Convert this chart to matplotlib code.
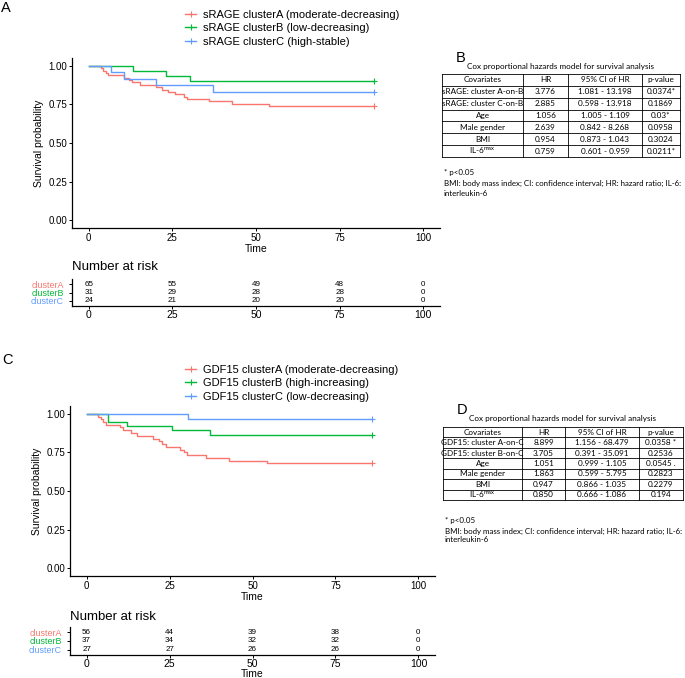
import matplotlib

matplotlib.use("Agg")
import matplotlib.pyplot as plt
from matplotlib.lines import Line2D

W, H = 685, 678
PLOT_FONT = "Liberation Sans"
TABLE_FONT = "Lato"

COLORS = ["#F8766D", "#00BA38", "#619CFF"]
GROUPS = ["clusterA", "clusterB", "clusterC"]
BREAKS = [0, 25, 50, 75, 100]

# panel A: sRAGE clusters (Kaplan-Meier steps)
sr_labels = ["sRAGE clusterA (moderate-decreasing)", "sRAGE clusterB (low-decreasing)",
             "sRAGE clusterC (high-stable)"]
sr_a_time = [0, 3.6, 4.4, 5.2, 5.9, 10.4, 12.0, 13.0, 15.2, 20.0, 22.0, 23.7, 25.7, 28.5,
             29.5, 36.0, 42.7, 54.0, 85.2]
sr_a_surv = [1.000, 0.985, 0.969, 0.954, 0.938, 0.923, 0.908, 0.892, 0.877, 0.862, 0.846,
             0.831, 0.815, 0.800, 0.785, 0.769, 0.754, 0.738, 0.738]
sr_b_time = [0, 13.3, 23.0, 30.3, 85.2]
sr_b_surv = [1.000, 0.968, 0.935, 0.903, 0.903]
sr_c_time = [0, 6.8, 10.5, 20.0, 37.0, 85.2]
sr_c_surv = [1.000, 0.958, 0.917, 0.875, 0.833, 0.833]
sr_risk = [[65, 55, 49, 48, 0], [31, 29, 28, 28, 0], [24, 21, 20, 20, 0]]

# panel C: GDF15 clusters
gd_labels = ["GDF15 clusterA (moderate-decreasing)", "GDF15 clusterB (high-increasing)",
             "GDF15 clusterC (low-decreasing)"]
gd_a_time = [0, 3.5, 4.2, 4.9, 5.7, 10.2, 11.0, 13.3, 15.3, 20.0, 21.8, 22.8, 23.9, 28.3,
             29.5, 30.2, 36.1, 42.9, 54.4, 86.1]
gd_a_surv = [1.000, 0.982, 0.964, 0.946, 0.929, 0.911, 0.893, 0.875, 0.857, 0.839, 0.821,
             0.804, 0.786, 0.768, 0.750, 0.732, 0.714, 0.696, 0.679, 0.679]
gd_b_time = [0, 6.5, 12.3, 25.6, 37.1, 86.1]
gd_b_surv = [1.000, 0.946, 0.919, 0.892, 0.865, 0.865]
gd_c_time = [0, 30.5, 86.1]
gd_c_surv = [1.000, 0.963, 0.963]
gd_risk = [[56, 44, 39, 38, 0], [37, 34, 32, 32, 0], [27, 27, 26, 26, 0]]

# Cox tables
cox_header = ["Covariates", "HR", "95% CI of HR", "p-value"]
cox_common = ["Age", "Male gender", "BMI", "IL-6$^{\\mathregular{max}}$"]
sr_cov = ["sRAGE: cluster A-on-B", "sRAGE: cluster C-on-B"] + cox_common
sr_hr = ["3.776", "2.885", "1.056", "2.639", "0.954", "0.759"]
sr_ci = ["1.081 - 13.198", "0.598 - 13.918", "1.005 - 1.109", "0.842 - 8.268",
         "0.873 - 1.043", "0.601 - 0.959"]
sr_p = ["0.0374*", "0.1869", "0.03*", "0.0958", "0.3024", "0.0211*"]
gd_cov = ["GDF15: cluster A-on-C", "GDF15: cluster B-on-C"] + cox_common
gd_hr = ["8.899", "3.705", "1.051", "1.863", "0.947", "0.850"]
gd_ci = ["1.156 - 68.479", "0.391 - 35.091", "0.999 - 1.105", "0.599 - 5.795",
         "0.866 - 1.035", "0.666 - 1.086"]
gd_p = ["0.0358 *", "0.2536", "0.0545 .", "0.2823", "0.2279", "0.194"]
table_title = "Cox proportional hazards model for survival analysis"
notes = ["* p<0.05",
         "BMI: body mass index; CI: confidence interval; HR: hazard ratio; IL-6:",
         "interleukin-6"]

plt.rcParams["font.family"] = [PLOT_FONT, "DejaVu Sans"]

fig = plt.figure(figsize=(W / 100, H / 100), dpi=100)


def px_axes(left, top, right, bottom):
    return fig.add_axes([left / W, 1 - bottom / H, (right - left) / W, (bottom - top) / H])


def style_spines(ax):
    for side in ["top", "right"]:
        ax.spines[side].set_visible(False)
    for side in ["left", "bottom"]:
        ax.spines[side].set_linewidth(0.9)
    ax.tick_params(length=2.5, width=0.7, labelsize=7, pad=1.0, colors="black")


def draw_km(box, curves, labels, legend_top):
    ax = px_axes(*box)
    for (times, surv), color in zip(curves, COLORS):
        ax.step(times, surv, where="post", color=color, lw=1.0)
        ax.plot(times[-1], surv[-1], marker="+", color=color, ms=4, mew=0.8)
    ax.set_xlim(-5, 105)
    ax.set_ylim(-0.05, 1.05)
    ax.set_xticks(BREAKS)
    ax.set_yticks([0, 0.25, 0.5, 0.75, 1.0])
    ax.set_yticklabels(["0.00", "0.25", "0.50", "0.75", "1.00"])
    style_spines(ax)
    ax.set_xlabel("Time", fontsize=7.5, labelpad=0.5)
    ax.set_ylabel("Survival probability", fontsize=7.5, labelpad=3)
    handles = [Line2D([], [], color=c, lw=1.0, marker="+", ms=4, mew=0.8) for c in COLORS]
    ax.legend(handles, labels, loc="upper left", bbox_to_anchor=(185 / W, 1 - legend_top / H),
              bbox_transform=fig.transFigure, frameon=False, fontsize=8, handlelength=1.0,
              handletextpad=0.6, labelspacing=0.3, borderpad=0, borderaxespad=0)
    return ax


def draw_risk(box, risk, title_y, bottom_label):
    ax = px_axes(*box)
    for row, counts in enumerate(risk):
        ypos = 2 - row
        for t, n in zip(BREAKS, counts):
            ax.text(t, ypos, str(n), ha="center", va="center", fontsize=5.8)
    ax.set_xlim(-5, 105)
    ax.set_ylim(-0.6, 2.6)
    ax.set_xticks(BREAKS)
    ax.set_yticks([2, 1, 0])
    ax.set_yticklabels(GROUPS)
    style_spines(ax)
    ax.tick_params(axis="x", labelsize=7.5, pad=0.5)
    ax.tick_params(axis="y", pad=3.5)
    for lab, color in zip(ax.get_yticklabels(), COLORS):
        lab.set_color(color)
        lab.set_fontsize(6.4)
    if bottom_label:
        ax.set_xlabel("Time", fontsize=7.5, labelpad=0)
    fig.text(box[0] / W, 1 - title_y / H, "Number at risk", fontsize=9.5, va="center")
    return ax


draw_km((72, 58, 440, 228), [(sr_a_time, sr_a_surv), (sr_b_time, sr_b_surv),
                              (sr_c_time, sr_c_surv)], sr_labels, 10)
draw_risk((72, 279, 440, 306), sr_risk, 267, False)
draw_km((70, 406, 435, 576), [(gd_a_time, gd_a_surv), (gd_b_time, gd_b_surv),
                               (gd_c_time, gd_c_surv)], gd_labels, 365)
draw_risk((70, 627, 435, 655), gd_risk, 617, True)

# overlay for panel letters and Cox tables
ov = fig.add_axes([0, 0, 1, 1], zorder=-1)
ov.set_xlim(0, W)
ov.set_ylim(H, 0)
ov.axis("off")

for letter, (lx, ly) in zip("ABCD", [(1, 8), (456, 58), (2, 360), (457, 410)]):
    ov.text(lx, ly, letter, fontsize=10.5, va="center", ha="left")


def draw_table(cols, top, bottom, title_y, notes_y, cov, hr, ci, pv):
    n_rows = len(cov) + 1
    step = (bottom - top) / n_rows
    for i in range(n_rows + 1):
        ov.plot([cols[0], cols[-1]], [top + i * step] * 2, color="black", lw=0.6)
    for x in cols:
        ov.plot([x, x], [top, bottom], color="black", lw=0.6)
    centers = [(a + b) / 2 for a, b in zip(cols[:-1], cols[1:])]
    rows = [cox_header] + [list(r) for r in zip(cov, hr, ci, pv)]
    for i, row in enumerate(rows):
        yc = top + (i + 0.5) * step
        for xc, txt in zip(centers, row):
            ov.text(xc, yc, txt, ha="center", va="center", fontsize=5.9, family=TABLE_FONT)
    ov.text((cols[0] + cols[-1]) / 2, title_y, table_title, ha="center", va="center",
            fontsize=5.9, family=TABLE_FONT)
    for j, line in enumerate(notes):
        ov.text(cols[0] + 2, notes_y[j], line, ha="left", va="center", fontsize=5.65,
                family=TABLE_FONT)


draw_table([442, 523, 568, 642, 680], 74, 157, 67, [172, 183, 193], sr_cov, sr_hr, sr_ci, sr_p)
draw_table([443, 522, 565, 639, 683], 427, 500, 419, [521, 531, 540], gd_cov, gd_hr, gd_ci, gd_p)

fig.savefig("out.png", dpi=100)
